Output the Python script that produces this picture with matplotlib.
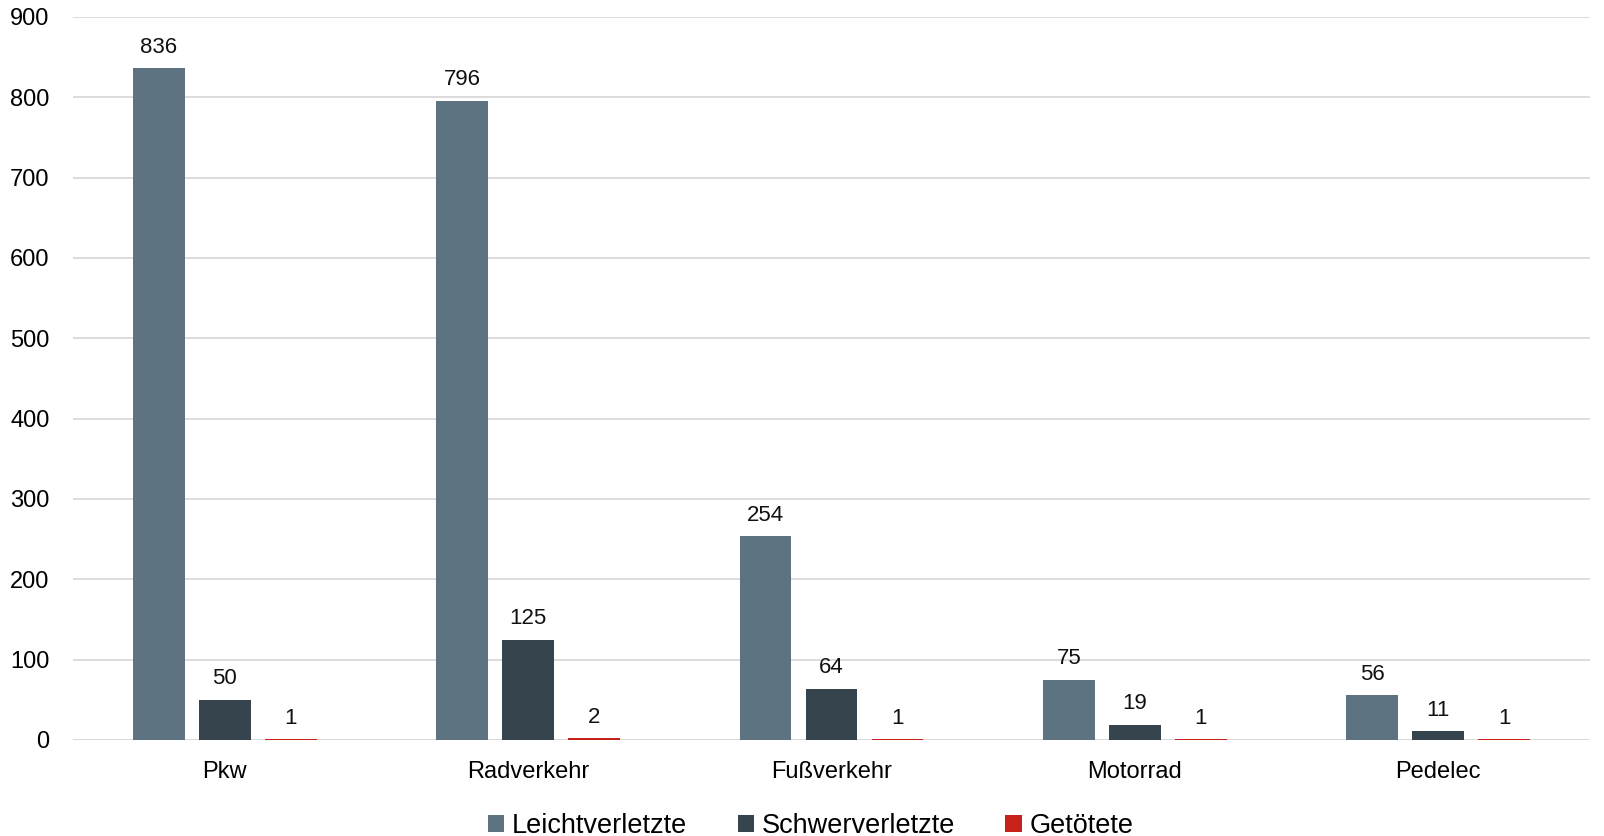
import matplotlib
matplotlib.use("Agg")
import matplotlib.pyplot as plt
import numpy as np
from matplotlib.patches import Patch

plt.rcParams['font.family'] = ['Liberation Sans', 'DejaVu Sans']

categories = ["Pkw", "Radverkehr", "Fußverkehr", "Motorrad", "Pedelec"]
series_names = ["Leichtverletzte", "Schwerverletzte", "Getötete"]
leicht = [836, 796, 254, 75, 56]
schwer = [50, 125, 64, 19, 11]
getoetet = [1, 2, 1, 1, 1]
colors = ["#5d7382", "#36444e", "#c8201a"]
yticks = [0, 100, 200, 300, 400, 500, 600, 700, 800, 900]

fig = plt.figure(figsize=(16.04, 8.36), dpi=100)
ax = fig.add_axes([73/1604, 1 - 740/836, (1590-73)/1604, (740-17)/836])

x = np.arange(len(categories))
width = 0.171
step = 0.2175
for i, (vals, col) in enumerate(zip([leicht, schwer, getoetet], colors)):
    pos = x + (i - 1) * step
    ax.bar(pos, vals, width, color=col, zorder=3)
    for p, v in zip(pos, vals):
        ax.annotate(str(v), (p, v), xytext=(0, 7.5), textcoords="offset points",
                    ha="center", va="bottom", fontsize=16, color="#111111")

ax.set_xlim(-0.5, len(categories) - 0.5)
ax.set_ylim(0, 900)
ax.set_yticks(yticks)
ax.set_yticklabels([str(t) for t in yticks], fontsize=17)
ax.set_xticks(x)
ax.set_xticklabels(categories, fontsize=17)
ax.tick_params(axis='both', length=0)
ax.tick_params(axis='y', pad=17)
ax.tick_params(axis='x', pad=15)
ax.grid(axis='y', color="#d9d9d9", linewidth=1.3, zorder=0)
for s in ax.spines.values():
    s.set_visible(False)
ax.axhline(0, color="#d9d9d9", linewidth=1.3, zorder=2)

handles = [Patch(facecolor=c, label=n) for c, n in zip(colors, series_names)]
fig.legend(handles=handles, loc="center", bbox_to_anchor=(0.5055, 1 - 826/836), ncol=3,
           frameon=False, fontsize=19.5, handlelength=0.6, handleheight=0.6,
           handletextpad=0.3, columnspacing=1.85)

fig.savefig("out.png", dpi=100)
